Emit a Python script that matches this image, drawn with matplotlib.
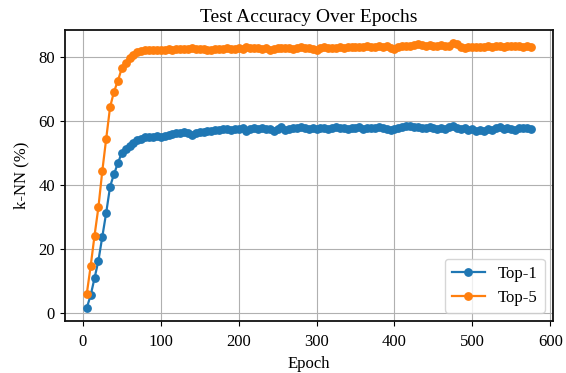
import matplotlib
matplotlib.use("Agg")
import matplotlib.pyplot as plt

plt.rcParams['font.family'] = ['Liberation Serif', 'DejaVu Serif']

# evaluation every 5 epochs
epochs = list(range(5, 580, 5))

top1 = [1.6, 5.5, 10.9, 16.4, 23.9, 31.4, 39.6, 43.5, 46.9, 50.2,
        51.3, 52.4, 53.3, 54.1, 54.6, 55.0, 55.2, 55.1, 55.3, 55.2,
        55.5, 55.8, 56.0, 56.4, 56.3, 56.6, 56.5, 55.7, 56.3, 56.6,
        56.8, 57.0, 57.1, 57.3, 57.2, 57.5, 57.6, 57.4, 57.7, 57.6,
        57.8, 56.9, 57.6, 57.8, 57.7, 57.9, 57.6, 57.5, 57.0, 57.6,
        58.1, 57.2, 57.5, 57.8, 57.9, 58.2, 57.8, 57.7, 57.9, 57.6,
        57.8, 58.0, 57.7, 57.9, 58.1, 57.8, 57.9, 57.6, 58.0, 57.8,
        58.1, 57.7, 57.9, 58.0, 57.8, 58.1, 57.9, 57.5, 57.2, 57.6,
        57.9, 58.3, 58.6, 58.4, 58.1, 58.3, 58.0, 57.8, 58.1, 57.9,
        57.6, 57.9, 57.5, 58.3, 58.6, 57.9, 57.7, 57.9, 57.4, 57.5,
        56.9, 57.3, 57.0, 57.6, 57.4, 57.8, 58.1, 57.6, 57.8, 57.5,
        57.3, 57.9, 58.0, 57.8, 57.7]

top5 = [5.9, 14.6, 24.2, 33.1, 44.5, 54.6, 64.5, 69.3, 72.7, 76.6,
        78.3, 79.8, 80.8, 81.6, 82.0, 82.2, 82.3, 82.2, 82.4, 82.3,
        82.5, 82.6, 82.5, 82.7, 82.6, 82.8, 82.7, 82.9, 82.6, 82.8,
        82.7, 82.5, 82.2, 82.6, 82.8, 82.7, 82.9, 82.8, 82.6, 82.9,
        82.8, 83.3, 83.0, 82.9, 83.1, 82.8, 82.9, 82.5, 82.6, 82.9,
        83.0, 82.9, 83.1, 82.8, 83.0, 83.2, 83.1, 82.9, 82.6, 82.4,
        82.9, 83.2, 83.0, 83.1, 83.0, 83.2, 83.1, 83.3, 83.2, 83.4,
        83.2, 83.3, 83.5, 83.4, 83.3, 83.5, 83.4, 83.6, 83.1, 82.8,
        83.2, 83.5, 83.7, 83.6, 83.9, 84.1, 83.8, 83.6, 83.9, 83.7,
        83.5, 83.8, 83.6, 83.7, 84.4, 84.1, 83.2, 83.0, 83.4, 83.2,
        83.3, 83.4, 83.3, 83.5, 83.4, 83.6, 83.5, 83.4, 83.6, 83.7,
        83.5, 83.6, 83.4, 83.5, 83.4]

fig = plt.figure(figsize=(5.66, 3.73), dpi=100)
ax = fig.add_axes([0.114, 0.139, 0.863, 0.780])

ax.plot(epochs, top1, 'o-', color='#1f77b4', markersize=5.3, linewidth=1.6, label='Top-1')
ax.plot(epochs, top5, 'o-', color='#ff7f0e', markersize=5.3, linewidth=1.6, label='Top-5')

ax.set_title("Test Accuracy Over Epochs", fontsize=14)
ax.set_xlabel("Epoch", fontsize=12)
ax.set_ylabel("k-NN (%)", fontsize=12, labelpad=6)
ax.tick_params(labelsize=12)
ax.tick_params(axis='x', pad=6)
ax.grid(True)
for s in ax.spines.values():
    s.set_color('#111111')
    s.set_linewidth(1.3)
ax.legend(loc='lower right', fontsize=12)

fig.savefig("out.png", dpi=100)
